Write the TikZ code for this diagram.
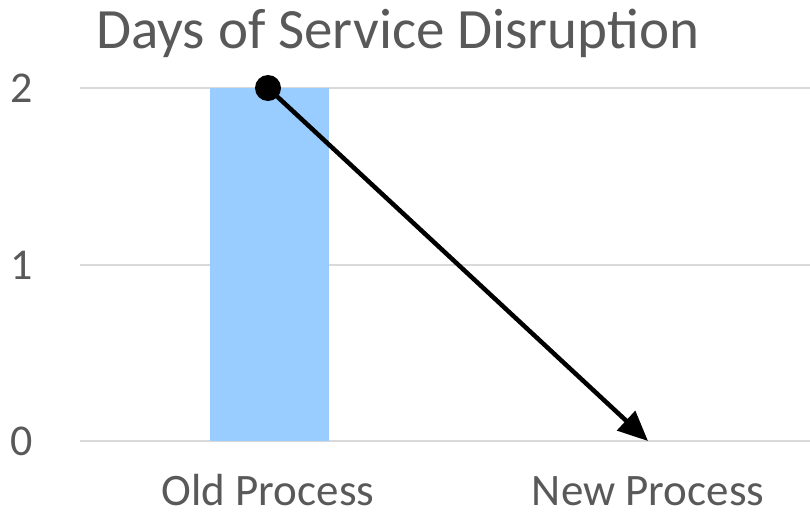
\documentclass[tikz,border=0pt]{standalone}
\usepackage{fontspec}
\setmainfont{Carlito}
\usetikzlibrary{positioning}
\usetikzlibrary{arrows.meta}
\definecolor{axisgray}{HTML}{595959}
\definecolor{gridgray}{HTML}{D9D9D9}
\definecolor{barblue}{HTML}{99CCFF}
\tikzset{
  label/.style      = { text=axisgray, inner sep=0pt },
  heading/.style    = { label, font=\fontsize{57}{62}\selectfont },
  tick/.style       = { label, font=\fontsize{44}{48}\selectfont },
  category/.style   = { label, font=\fontsize{45}{50}\selectfont },
  gridline/.style   = { draw=gridgray, line width=2pt },
  bar/.style        = { fill=barblue },
  marker/.style     = { circle, fill=black, minimum size=26pt, inner sep=0pt },
}
\begin{document}
\begin{tikzpicture}[x=1pt,y=-1pt,
  ,>={Triangle[length=30pt,width=26pt]},line width=4.5pt
]
  \useasboundingbox (0,0) rectangle (810,520);

  % grid and bar
  \draw [gridline] (80,88)  -- (810,88);
  \draw [gridline] (80,265) -- (810,265);
  \draw [gridline] (80,441) -- (810,441);
  \fill [bar] (210,88) rectangle (329,441);

  \node (title)  [heading,anchor=base west] at (94,48)  {Days of Service Disruption};
  \node (two)    [tick,anchor=east]         at (35,88)  {2};
  \node (one)    [tick,anchor=east]         at (35,265) {1};
  \node (zero)   [tick,anchor=east]         at (35,441) {0};
  \node (old)    [category,anchor=base]     at (268,505) {Old Process};
  \node (new)    [category,anchor=base]     at (648,505) {New Process};

  \node (start)  [marker] at (268,88) {};
  \coordinate (end) at (648,441);

  \draw [->] (start.center) -- (end);
\end{tikzpicture}
\end{document}
